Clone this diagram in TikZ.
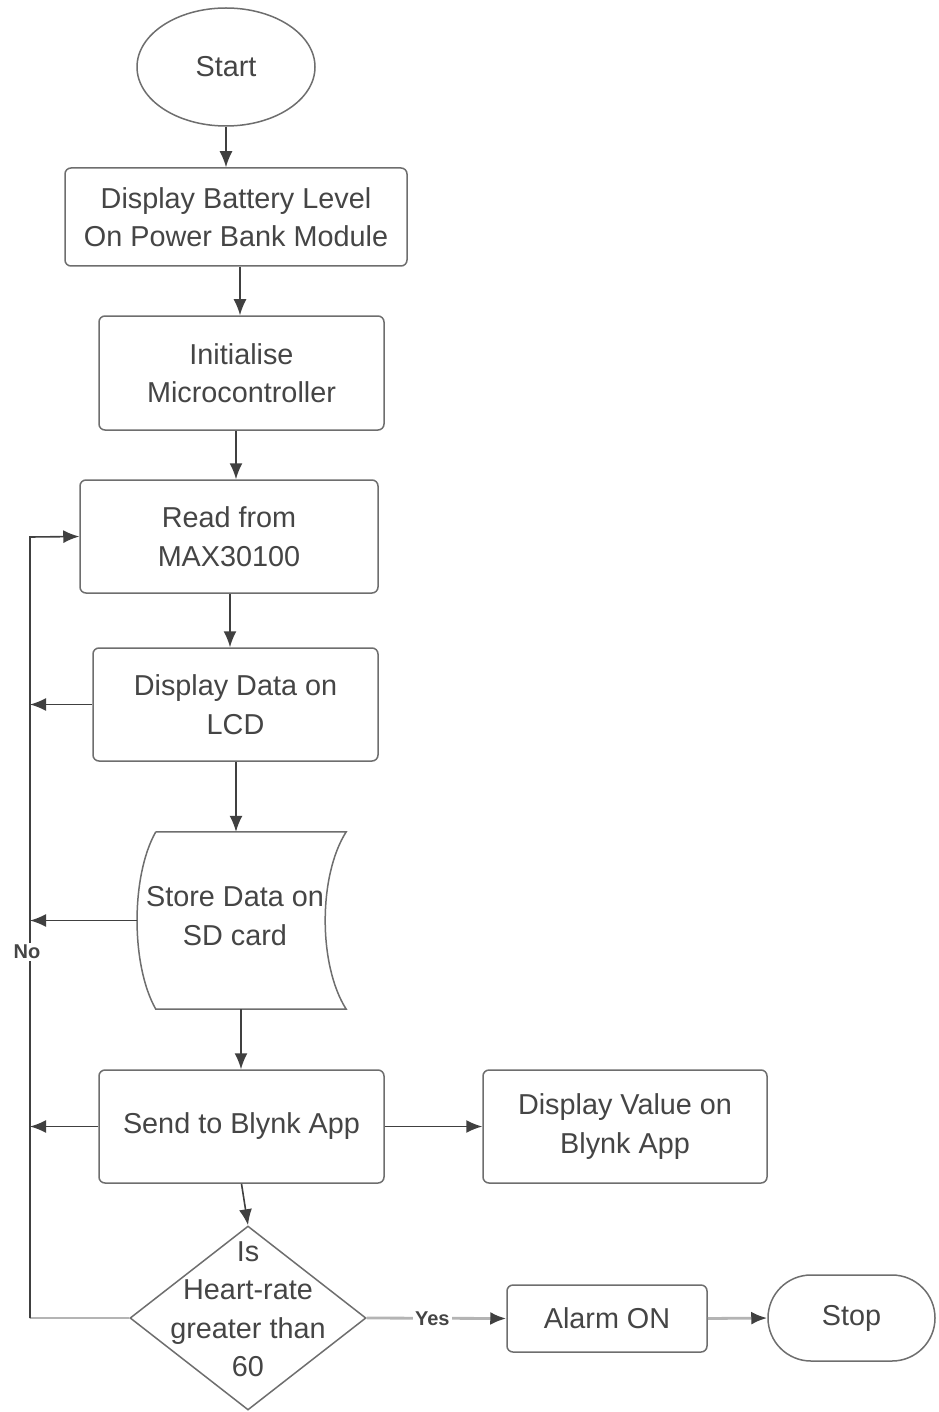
\documentclass[tikz,border=0pt]{standalone}
\usepackage{fontspec}
\setmainfont{Liberation Sans}
\usetikzlibrary{arrows.meta,shapes.geometric,calc}
\definecolor{boxline}{HTML}{6E6E6E}
\definecolor{conn}{HTML}{404040}
\definecolor{lightconn}{HTML}{B4B4B4}
\definecolor{txtcol}{HTML}{454545}
\tikzset{
  procbox/.style={draw=boxline, line width=1.5pt, rounded corners=6pt, align=center,
    text=txtcol, inner sep=0pt, font=\fontsize{28.8}{38.5}\selectfont},
  termnode/.style={draw=boxline, line width=1.5pt, align=center, text=txtcol, inner sep=0pt,
    font=\fontsize{28.8}{38.5}\selectfont},
  plaintext/.style={align=center, text=txtcol, inner sep=0pt, font=\fontsize{28.8}{38.5}\selectfont},
  arr/.style={draw=conn, line width=1.6pt, -{Latex[length=16pt,width=13pt]}},
  lightarr/.style={draw=lightconn, line width=2.8pt, -{Latex[length=16pt,width=13pt,color=conn]}},
  flowlabel/.style={fill=white, inner sep=2pt, text=txtcol, font=\fontsize{20}{24}\selectfont\bfseries},
}
\begin{document}
\begin{tikzpicture}[x=1pt,y=-1pt]
\useasboundingbox[fill=white] (0,0) rectangle (938,1412);

% nodes
\node[termnode, ellipse, minimum width=178pt, minimum height=118pt] (start) at (226,67) {Start};
\node[procbox, minimum width=342pt, minimum height=98pt] (b1) at (236,217) {Display Battery Level\\On Power Bank Module};
\node[procbox, minimum width=285pt, minimum height=114pt] (b2) at (241.5,373) {Initialise\\Microcontroller};
\node[procbox, minimum width=298pt, minimum height=113pt] (b3) at (229,536.5) {Read from\\MAX30100};
\node[procbox, minimum width=285pt, minimum height=113pt] (b4) at (235.5,704.5) {Display Data on\\LCD};

% stored data shape
\node[minimum width=190pt, minimum height=177pt, inner sep=0pt] (sd) at (251,920.5) {};
\draw[boxline, line width=1.5pt]
  (sd.north west) -- (sd.north east)
  .. controls ($(sd.north east)+(-28,44)$) and ($(sd.south east)+(-28,-44)$) .. (sd.south east)
  -- (sd.south west)
  .. controls ($(sd.south west)+(-25,-44)$) and ($(sd.north west)+(-25,44)$) .. (sd.north west);
\node[plaintext] (sdtext) at (235,916) {Store Data on\\SD card};

\node[procbox, minimum width=285pt, minimum height=113pt] (b5) at (241.5,1126.5) {Send to Blynk App};
\node[procbox, minimum width=284pt, minimum height=113pt] (b6) at (625,1126.5) {Display Value on\\Blynk App};

\node[draw=boxline, line width=1.5pt, diamond, minimum width=236pt, minimum height=184pt, inner sep=0pt] (dec) at (248,1318) {};
\node[plaintext] (dectext) at (248,1309) {Is\\Heart-rate\\greater than\\60};

\node[procbox, minimum width=200pt, minimum height=67pt] (alarm) at (607,1318.5) {Alarm ON};
\node[termnode, rounded corners=43pt, minimum width=167pt, minimum height=86pt] (stop) at (851.5,1318) {Stop};

% main flow
\draw[arr] (start.south) -- (b1.north -| start.south);
\draw[arr] (b1.south -| 240,0) -- (b2.north -| 240,0);
\draw[arr] (b2.south -| 236,0) -- (b3.north -| 236,0);
\draw[arr] (b3.south -| 230,0) -- (b4.north -| 230,0);
\draw[arr] (b4.south -| 236,0) -- (sd.north -| 236,0);
\draw[arr] (sd.south -| 241,0) -- (b5.north -| 241,0);
\draw[arr] (b5.south) -- (dec.north);
\draw[arr] (b5.east) -- (b6.west);

% loop back (No)
\coordinate (lt) at (30,537);
\coordinate (lb) at (30,1318);
\draw[draw=lightconn, line width=2.8pt] (dec.west) -- (lb);
\draw[arr] (lb) -- (lt) -- (b3.west);
\draw[arr] (b4.west) -- (b4.west -| lt);
\draw[arr] (sd.west -| 137,0) -- (sd.west -| lt);
\draw[arr] (b5.west) -- (b5.west -| lt);
\node[flowlabel] (nolabel) at (27,952) {No};

% Yes branch
\draw[lightarr] (dec.east) -- node[flowlabel, pos=0.47] (yeslabel) {Yes} (alarm.west);
\draw[lightarr] (alarm.east) -- (stop.west);
\end{tikzpicture}
\end{document}
